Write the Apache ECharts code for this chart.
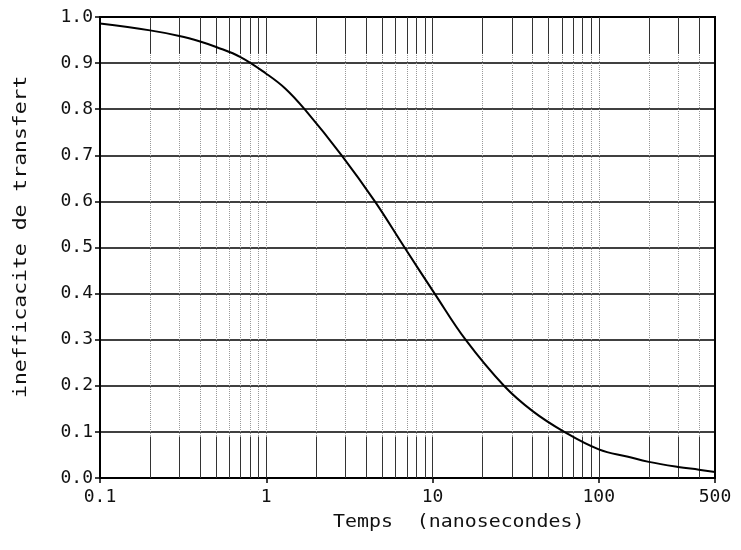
<!DOCTYPE html>
<html>
<head>
<meta charset="utf-8">
<script src="https://cdn.jsdelivr.net/npm/echarts@6/dist/echarts.min.js"></script>
<style>html,body{margin:0;padding:0;background:#fff;}#c{width:741px;height:550px;}</style>
</head>
<body>
<div id="c"></div>
<script>
// Data
const times = [0.1, 0.2, 0.3, 0.4, 0.5, 0.7, 1.0, 1.3, 1.7, 2.84, 4.5, 6.79, 10.3, 15.8, 26.9, 40, 62, 100, 150, 200, 300, 400, 500];
const ineff = [0.986, 0.971, 0.959, 0.947, 0.935, 0.913, 0.877, 0.845, 0.800, 0.700, 0.600, 0.500, 0.400, 0.300, 0.200, 0.145, 0.100, 0.062, 0.046, 0.035, 0.024, 0.018, 0.013];
const xTickLabels = ['0.1', '1', '10', '100', '500'];
const yTickLabels = ['0.0','0.1','0.2','0.3','0.4','0.5','0.6','0.7','0.8','0.9','1.0'];
const verticalGrid = [0.2,0.3,0.4,0.5,0.6,0.7,0.8,0.9,1,2,3,4,5,6,7,8,9,10,20,30,40,50,60,70,80,90,100,200,300,400];
const xTitle = 'Temps  (nanosecondes)';
const yTitle = 'inefficacite de transfert';

const FONT = 'DejaVu Sans Mono';
const chart = echarts.init(document.getElementById('c'), null, {renderer: 'canvas'});

const gridDotted = verticalGrid.map(v => [{coord: [v, 0]}, {coord: [v, 1]}]);
const gridSolidLow = verticalGrid.map(v => [{coord: [v, 0]}, {coord: [v, 0.09]}]);
const gridSolidHigh = verticalGrid.map(v => [{coord: [v, 0.92]}, {coord: [v, 1]}]);

function fmtX(v) {
  const str = String(Number(v.toPrecision(3)));
  return xTickLabels.indexOf(str) >= 0 ? str : '';
}

chart.setOption({
  backgroundColor: '#fff',
  animation: false,
  grid: {left: 100, right: 26, top: 17, bottom: 72, show: true, borderColor: '#000', borderWidth: 2},
  xAxis: {
    type: 'log', logBase: 10, min: 0.1, max: 500,
    axisLine: {lineStyle: {color: '#000', width: 2}},
    axisTick: {show: true, length: 5, lineStyle: {color: '#000', width: 1.5}},
    splitLine: {show: false},
    axisLabel: {show: true, showMinLabel: true, showMaxLabel: true, margin: 10,
      fontFamily: FONT, fontSize: 18, color: '#111', formatter: fmtX}
  },
  yAxis: {
    type: 'value', min: 0, max: 1, interval: 0.1,
    axisLine: {lineStyle: {color: '#000', width: 2}},
    axisTick: {show: true, length: 5, lineStyle: {color: '#000', width: 1.5}},
    splitLine: {show: true, lineStyle: {color: '#000', width: 1.5}},
    axisLabel: {margin: 7, fontFamily: FONT, fontSize: 18, color: '#111',
      formatter: v => yTickLabels[Math.round(v * 10)]}
  },
  graphic: [
    {type: 'text', x: 333, y: 514, scaleX: 1.17,
      style: {text: xTitle, font: '17px "' + FONT + '"', fill: '#111', textVerticalAlign: 'top'}},
    {type: 'text', x: 13, y: 398, rotation: Math.PI / 2, scaleX: 1.26,
      style: {text: yTitle, font: '17px "' + FONT + '"', fill: '#111', textVerticalAlign: 'top'}}
  ],
  series: [
    {type: 'line', data: [], silent: true,
      markLine: {silent: true, symbol: 'none', label: {show: false},
        lineStyle: {type: 'dotted', color: '#999', width: 1}, data: gridDotted}},
    {type: 'line', data: [], silent: true,
      markLine: {silent: true, symbol: 'none', label: {show: false},
        lineStyle: {type: 'solid', color: '#333', width: 1}, data: gridSolidLow.concat(gridSolidHigh)}},
    {type: 'line', data: times.map((t, i) => [t, ineff[i]]), smooth: 0.4, showSymbol: false,
      lineStyle: {color: '#000', width: 2}, z: 5}
  ]
});
</script>
</body>
</html>
